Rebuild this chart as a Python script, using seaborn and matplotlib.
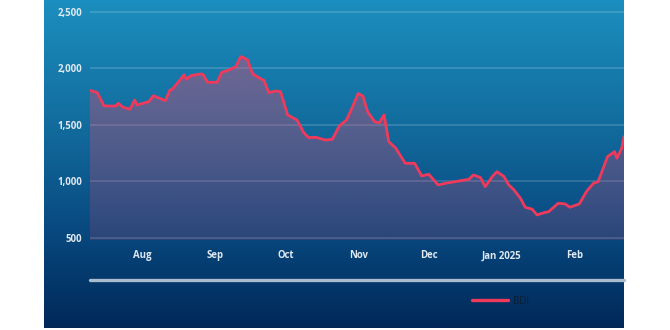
import numpy as np
import pandas as pd
import matplotlib
matplotlib.use("Agg")
import matplotlib.pyplot as plt
import matplotlib.dates as mdates
from matplotlib.lines import Line2D
from matplotlib.colors import LinearSegmentedColormap
import seaborn as sns

# ---------------- data ----------------
dates = [
    "2024-07-10", "2024-07-13", "2024-07-16", "2024-07-21", "2024-07-22", "2024-07-24",
    "2024-07-27", "2024-07-29", "2024-07-30", "2024-08-04", "2024-08-06", "2024-08-11",
    "2024-08-13", "2024-08-14", "2024-08-19", "2024-08-20", "2024-08-22", "2024-08-26",
    "2024-08-27", "2024-08-29", "2024-09-02", "2024-09-04", "2024-09-07", "2024-09-10",
    "2024-09-12", "2024-09-13", "2024-09-15", "2024-09-17", "2024-09-19", "2024-09-22",
    "2024-09-24", "2024-09-27", "2024-09-29", "2024-10-02", "2024-10-06", "2024-10-09",
    "2024-10-11", "2024-10-14", "2024-10-18", "2024-10-21", "2024-10-24", "2024-10-27",
    "2024-10-29", "2024-11-01", "2024-11-03", "2024-11-05", "2024-11-08", "2024-11-10",
    "2024-11-12", "2024-11-14", "2024-11-17", "2024-11-21", "2024-11-25", "2024-11-28",
    "2024-12-01", "2024-12-05", "2024-12-08", "2024-12-18", "2024-12-20", "2024-12-23",
    "2024-12-25", "2024-12-28", "2024-12-30", "2025-01-02", "2025-01-04", "2025-01-06",
    "2025-01-09", "2025-01-11", "2025-01-14", "2025-01-16", "2025-01-19", "2025-01-21",
    "2025-01-25", "2025-01-28", "2025-01-30", "2025-02-03", "2025-02-06", "2025-02-09",
    "2025-02-11", "2025-02-15", "2025-02-18", "2025-02-19", "2025-02-21", "2025-02-22",
]
bdi = [
    1805, 1789, 1668, 1668, 1692, 1657,
    1639, 1721, 1677, 1706, 1759, 1715,
    1810, 1816, 1943, 1904, 1937, 1951,
    1948, 1878, 1878, 1966, 1987, 2016,
    2104, 2099, 2075, 1957, 1928, 1893,
    1786, 1801, 1795, 1589, 1544, 1427,
    1388, 1391, 1367, 1373, 1491, 1544,
    1633, 1778, 1757, 1618, 1529, 1520,
    1589, 1352, 1294, 1161, 1161, 1049,
    1064, 969, 984, 1019, 1058, 1034,
    954, 1043, 1087, 1043, 969, 931,
    851, 772, 754, 704, 724, 733,
    807, 801, 772, 801, 910, 984,
    998, 1220, 1264, 1205, 1294, 1397,
]
series_name = "BDI"
ytick_values = [500, 1000, 1500, 2000, 2500]
ytick_labels = ["500", "1,000", "1,500", "2,000", "2,500"]
xtick_dates = ["2024-08-01", "2024-09-01", "2024-10-01", "2024-11-01",
               "2024-12-01", "2025-01-01", "2025-02-01"]
xtick_labels = ["Aug", "Sep", "Oct", "Nov", "Dec", "Jan 2025", "Feb"]

df = pd.DataFrame({"date": pd.to_datetime(dates), "value": bdi})

# ---------------- figure ----------------
sns.set_theme(style="white")
plt.rcParams["font.family"] = ["Open Sans", "DejaVu Sans"]

W, H = 670, 330
fig = plt.figure(figsize=(W / 100, H / 100), dpi=100, facecolor="white")

# gradient background panel
bg_ax = fig.add_axes([44 / W, 2 / H, 580 / W, 328 / H], zorder=0)
bg_cmap = LinearSegmentedColormap.from_list(
    "bg",
    [(0.0, "#1b8fbf"), (0.35, "#136fa0"), (0.65, "#0a4f86"), (0.8, "#053e72"), (1.0, "#02285a")],
)
grad = np.linspace(0, 1, 256).reshape(-1, 1)
bg_ax.imshow(grad, aspect="auto", cmap=bg_cmap, extent=[0, 1, 0, 1], origin="upper")
bg_ax.set_axis_off()

# main axes
ax = fig.add_axes([90 / W, 90 / H, 534 / W, 240 / H], zorder=2)
ax.patch.set_alpha(0)

ymin, ymax = 482, 2606
ax.set_ylim(ymin, ymax)
ax.set_xlim(df["date"].iloc[0], df["date"].iloc[-1])

for v in ytick_values:
    ax.axhline(v, color="white", alpha=0.15, lw=1.4, zorder=1)

# gradient area fill clipped under the line
poly = ax.fill_between(df["date"], df["value"], ymin, color="none", lw=0)
x0n, x1n = mdates.date2num(df["date"].iloc[0]), mdates.date2num(df["date"].iloc[-1])
fill_rgba = np.zeros((256, 1, 4))
fill_rgba[..., 0] = 235 / 255
fill_rgba[..., 1] = 70 / 255
fill_rgba[..., 2] = 110 / 255
fill_rgba[..., 3] = np.linspace(0.42, 0.16, 256).reshape(-1, 1)
im = ax.imshow(fill_rgba, aspect="auto", extent=[x0n, x1n, ymin, max(bdi)],
               origin="upper", zorder=2, interpolation="bilinear")
im.set_clip_path(poly.get_paths()[0], transform=ax.transData)
ax.set_xlim(df["date"].iloc[0], df["date"].iloc[-1])
ax.set_ylim(ymin, ymax)

sns.lineplot(data=df, x="date", y="value", ax=ax, color="#f03a5c", lw=2.0,
             zorder=3, label=series_name, legend=False)

ax.set_yticks(ytick_values)
ax.set_yticklabels(ytick_labels)
ax.set_xticks(pd.to_datetime(xtick_dates))
ax.set_xticklabels(xtick_labels)
ax.set_xlabel("")
ax.set_ylabel("")
ax.tick_params(axis="both", length=0, labelsize=6.9, labelcolor="#dfe8f0")
ax.tick_params(axis="y", pad=5.5)
ax.tick_params(axis="x", pad=7.5)
for lab in ax.get_xticklabels() + ax.get_yticklabels():
    lab.set_fontweight("bold")
for s in ax.spines.values():
    s.set_visible(False)

# scrollbar-like line
fig.add_artist(Line2D([90 / W, 624 / W], [1 - 279.5 / H, 1 - 279.5 / H],
                      color="#a9bccd", lw=2.4, transform=fig.transFigure, zorder=3))

# legend
handle = Line2D([], [], color="#f03a5c", lw=2.4)
leg = fig.legend([handle], [series_name], loc="center left",
                 bbox_to_anchor=(467 / W, 1 - 301 / H), frameon=False,
                 fontsize=6.9, handlelength=3.8, handletextpad=0.5, borderpad=0)
for t in leg.get_texts():
    t.set_color("#0b1e33")

fig.savefig("out.png", dpi=100, facecolor="white")
